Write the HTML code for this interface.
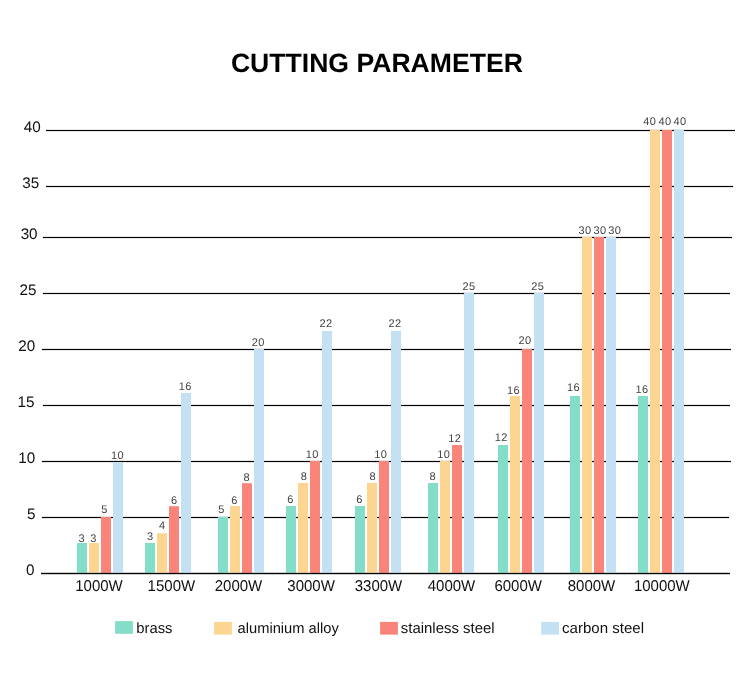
<!DOCTYPE html>
<html><head><meta charset="utf-8"><title>Cutting Parameter</title>
<style>
html,body{margin:0;padding:0;background:#fff;}
body{width:750px;height:678px;overflow:hidden;position:relative;}
svg{will-change:transform;text-rendering:geometricPrecision;position:absolute;left:0;top:0;display:block;font-family:"Liberation Sans", sans-serif;}
</style></head><body>
<svg width="750" height="678" viewBox="0 0 750 678" font-family='"Liberation Sans", sans-serif'>
<text x="376.9" y="72.0" text-anchor="middle" font-weight="bold" font-size="26.6" fill="#000">CUTTING PARAMETER</text>
<rect x="46" y="129.90" width="689" height="1.2" fill="#000"/>
<rect x="46" y="185.90" width="687" height="1.2" fill="#000"/>
<rect x="43" y="236.90" width="689" height="1.2" fill="#000"/>
<rect x="43" y="292.90" width="687" height="1.2" fill="#000"/>
<rect x="42" y="348.90" width="689" height="1.2" fill="#000"/>
<rect x="43" y="404.90" width="687" height="1.2" fill="#000"/>
<rect x="42" y="460.90" width="689" height="1.2" fill="#000"/>
<rect x="42" y="516.90" width="687" height="1.2" fill="#000"/>
<rect x="41" y="572.90" width="689" height="1.2" fill="#000"/>
<text x="40.8" y="131.79999999999998" text-anchor="end" font-size="15.25" fill="#111">40</text>
<text x="39.199999999999996" y="187.79999999999998" text-anchor="end" font-size="15.25" fill="#111">35</text>
<text x="37.6" y="238.79999999999998" text-anchor="end" font-size="15.25" fill="#111">30</text>
<text x="36.4" y="294.8" text-anchor="end" font-size="15.25" fill="#111">25</text>
<text x="35.199999999999996" y="350.8" text-anchor="end" font-size="15.25" fill="#111">20</text>
<text x="34.4" y="406.8" text-anchor="end" font-size="15.25" fill="#111">15</text>
<text x="35.199999999999996" y="462.8" text-anchor="end" font-size="15.25" fill="#111">10</text>
<text x="35.4" y="518.8000000000001" text-anchor="end" font-size="15.25" fill="#111">5</text>
<text x="34.4" y="574.6" text-anchor="end" font-size="15.25" fill="#111">0</text>
<rect x="77" y="543" width="10" height="30.5" fill="#84ddc8"/>
<rect x="89" y="543" width="10" height="30.5" fill="#fcd690"/>
<rect x="101" y="517" width="10" height="56.5" fill="#f8847a"/>
<rect x="113" y="462.5" width="10" height="111.0" fill="#c3e1f3"/>
<rect x="145" y="543" width="10" height="30.5" fill="#84ddc8"/>
<rect x="157" y="533.3" width="10" height="40.200000000000045" fill="#fcd690"/>
<rect x="169" y="506.2" width="10" height="67.30000000000001" fill="#f8847a"/>
<rect x="181" y="393" width="10" height="180.5" fill="#c3e1f3"/>
<rect x="218" y="517" width="10" height="56.5" fill="#84ddc8"/>
<rect x="230" y="506" width="10" height="67.5" fill="#fcd690"/>
<rect x="242" y="483.2" width="10" height="90.30000000000001" fill="#f8847a"/>
<rect x="254" y="349" width="10" height="224.5" fill="#c3e1f3"/>
<rect x="286" y="506" width="10" height="67.5" fill="#84ddc8"/>
<rect x="298" y="483" width="10" height="90.5" fill="#fcd690"/>
<rect x="310" y="461" width="10" height="112.5" fill="#f8847a"/>
<rect x="322" y="331" width="10" height="242.5" fill="#c3e1f3"/>
<rect x="355" y="506" width="10" height="67.5" fill="#84ddc8"/>
<rect x="367" y="483" width="10" height="90.5" fill="#fcd690"/>
<rect x="379" y="461" width="10" height="112.5" fill="#f8847a"/>
<rect x="391" y="331" width="10" height="242.5" fill="#c3e1f3"/>
<rect x="428" y="483" width="10" height="90.5" fill="#84ddc8"/>
<rect x="440" y="461" width="10" height="112.5" fill="#fcd690"/>
<rect x="452" y="445" width="10" height="128.5" fill="#f8847a"/>
<rect x="464" y="293" width="10" height="280.5" fill="#c3e1f3"/>
<rect x="498" y="445" width="10" height="128.5" fill="#84ddc8"/>
<rect x="510" y="396" width="10" height="177.5" fill="#fcd690"/>
<rect x="522" y="349" width="10" height="224.5" fill="#f8847a"/>
<rect x="534" y="293" width="10" height="280.5" fill="#c3e1f3"/>
<rect x="570" y="396" width="10" height="177.5" fill="#84ddc8"/>
<rect x="582" y="237" width="10" height="336.5" fill="#fcd690"/>
<rect x="594" y="237" width="10" height="336.5" fill="#f8847a"/>
<rect x="606" y="237" width="10" height="336.5" fill="#c3e1f3"/>
<rect x="638" y="396" width="10" height="177.5" fill="#84ddc8"/>
<rect x="650" y="130" width="10" height="443.5" fill="#fcd690"/>
<rect x="662" y="130" width="10" height="443.5" fill="#f8847a"/>
<rect x="674" y="130" width="10" height="443.5" fill="#c3e1f3"/>
<rect x="41" y="572.90" width="689" height="1.2" fill="#000"/>
<text x="81.60" y="541.80" text-anchor="middle" font-size="11" letter-spacing="0" fill="#444">3</text>
<text x="93.40" y="541.80" text-anchor="middle" font-size="11" letter-spacing="0" fill="#444">3</text>
<text x="104.40" y="513.30" text-anchor="middle" font-size="11" letter-spacing="0" fill="#444">5</text>
<text x="117.40" y="459.20" text-anchor="middle" font-size="11" letter-spacing="0.4" fill="#444">10</text>
<text x="150.00" y="540.40" text-anchor="middle" font-size="11" letter-spacing="0" fill="#444">3</text>
<text x="162.00" y="529.10" text-anchor="middle" font-size="11" letter-spacing="0" fill="#444">4</text>
<text x="174.00" y="503.60" text-anchor="middle" font-size="11" letter-spacing="0" fill="#444">6</text>
<text x="185.20" y="389.60" text-anchor="middle" font-size="11" letter-spacing="0.4" fill="#444">16</text>
<text x="221.40" y="513.30" text-anchor="middle" font-size="11" letter-spacing="0" fill="#444">5</text>
<text x="234.30" y="503.60" text-anchor="middle" font-size="11" letter-spacing="0" fill="#444">6</text>
<text x="246.60" y="480.70" text-anchor="middle" font-size="11" letter-spacing="0" fill="#444">8</text>
<text x="258.20" y="345.50" text-anchor="middle" font-size="11" letter-spacing="0.4" fill="#444">20</text>
<text x="290.40" y="503.40" text-anchor="middle" font-size="11" letter-spacing="0" fill="#444">6</text>
<text x="303.70" y="480.40" text-anchor="middle" font-size="11" letter-spacing="0" fill="#444">8</text>
<text x="312.20" y="457.80" text-anchor="middle" font-size="11" letter-spacing="0.4" fill="#444">10</text>
<text x="326.10" y="327.40" text-anchor="middle" font-size="11" letter-spacing="0.4" fill="#444">22</text>
<text x="359.40" y="503.40" text-anchor="middle" font-size="11" letter-spacing="0" fill="#444">6</text>
<text x="372.60" y="480.40" text-anchor="middle" font-size="11" letter-spacing="0" fill="#444">8</text>
<text x="380.80" y="457.80" text-anchor="middle" font-size="11" letter-spacing="0.4" fill="#444">10</text>
<text x="395.10" y="327.40" text-anchor="middle" font-size="11" letter-spacing="0.4" fill="#444">22</text>
<text x="432.60" y="480.40" text-anchor="middle" font-size="11" letter-spacing="0" fill="#444">8</text>
<text x="443.70" y="457.80" text-anchor="middle" font-size="11" letter-spacing="0.4" fill="#444">10</text>
<text x="454.80" y="441.70" text-anchor="middle" font-size="11" letter-spacing="0.4" fill="#444">12</text>
<text x="468.90" y="289.50" text-anchor="middle" font-size="11" letter-spacing="0.4" fill="#444">25</text>
<text x="501.30" y="441.40" text-anchor="middle" font-size="11" letter-spacing="0.4" fill="#444">12</text>
<text x="513.50" y="393.50" text-anchor="middle" font-size="11" letter-spacing="0.4" fill="#444">16</text>
<text x="525.10" y="344.20" text-anchor="middle" font-size="11" letter-spacing="0.4" fill="#444">20</text>
<text x="537.80" y="289.50" text-anchor="middle" font-size="11" letter-spacing="0.4" fill="#444">25</text>
<text x="573.40" y="391.40" text-anchor="middle" font-size="11" letter-spacing="0.4" fill="#444">16</text>
<text x="584.90" y="233.50" text-anchor="middle" font-size="11" letter-spacing="0.4" fill="#444">30</text>
<text x="599.90" y="233.50" text-anchor="middle" font-size="11" letter-spacing="0.4" fill="#444">30</text>
<text x="614.80" y="233.50" text-anchor="middle" font-size="11" letter-spacing="0.4" fill="#444">30</text>
<text x="642.00" y="392.60" text-anchor="middle" font-size="11" letter-spacing="0.4" fill="#444">16</text>
<text x="649.80" y="124.80" text-anchor="middle" font-size="11" letter-spacing="0.4" fill="#444">40</text>
<text x="665.10" y="124.80" text-anchor="middle" font-size="11" letter-spacing="0.4" fill="#444">40</text>
<text x="680.10" y="124.80" text-anchor="middle" font-size="11" letter-spacing="0.4" fill="#444">40</text>
<text transform="translate(75.2,590.5) scale(1,1.04)" font-size="15" fill="#111">1000W</text>
<text transform="translate(147.60000000000002,590.5) scale(1,1.04)" font-size="15" fill="#111">1500W</text>
<text transform="translate(214.70000000000002,590.5) scale(1,1.04)" font-size="15" fill="#111">2000W</text>
<text transform="translate(287.3,590.5) scale(1,1.04)" font-size="15" fill="#111">3000W</text>
<text transform="translate(354.7,590.5) scale(1,1.04)" font-size="15" fill="#111">3300W</text>
<text transform="translate(427.7,590.5) scale(1,1.04)" font-size="15" fill="#111">4000W</text>
<text transform="translate(494.40000000000003,590.5) scale(1,1.04)" font-size="15" fill="#111">6000W</text>
<text transform="translate(567.6999999999999,590.5) scale(1,1.04)" font-size="15" fill="#111">8000W</text>
<text transform="translate(633.9,590.5) scale(1,1.04)" font-size="15" fill="#111">10000W</text>
<rect x="115.1" y="621.1" width="17.8" height="12.7" fill="#84ddc8"/>
<text x="136.29999999999998" y="632.6" font-size="14.8" fill="#111">brass</text>
<rect x="214.1" y="621.9" width="17.8" height="12.7" fill="#fcd690"/>
<text x="237.6" y="633.2" font-size="14.7" fill="#111">aluminium alloy</text>
<rect x="380.1" y="621.9" width="17.8" height="12.7" fill="#f8847a"/>
<text x="400.8" y="633.1" font-size="14.95" fill="#111">stainless steel</text>
<rect x="541.2" y="621.9" width="17.8" height="12.7" fill="#c3e1f3"/>
<text x="562.1" y="632.9" font-size="15.05" fill="#111">carbon steel</text>
</svg>
</body></html>
